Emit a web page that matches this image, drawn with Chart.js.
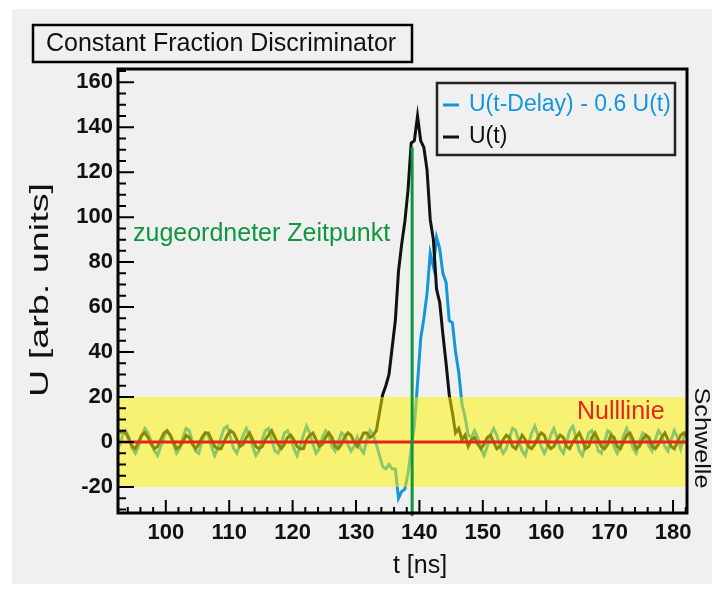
<!DOCTYPE html>
<html><head><meta charset="utf-8">
<script src="https://cdn.jsdelivr.net/npm/chart.js@4.4.0/dist/chart.umd.min.js"></script>
<style>html,body{margin:0;padding:0;background:#fff;}#wrap{width:721px;height:592px;position:relative}</style>
</head><body><div id="wrap"><canvas id="c" width="721" height="592"></canvas></div>
<script>
// sampling grid of the digitizer (ns)
const T_START = 92.7, T_STEP = 0.5;

// U(t)
const uSignal = [
  4, 5, 4, 1, -2, -3, 0, 3, 4, 2,
  -1, -3, -2, 1, 4, 5, 3, 0, -3, -2,
  0, 3, 2, -1, -3, -1, 2, 4, 4, 1,
  -2, -3, -3, 0, 3, 5, 4, 1, -2, -1,
  2, 4, 1, -2, -3, -2, 1, 3, 5, 2,
  -1, -3, -1, 2, 3, 1, -2, -3, -3, 1,
  3, 4, 1, -2, -1, 2, 4, 2, -2, -3,
  -1, 2, 4, 3, 0, -2, 1, 4, 4, 2,
  3, 5, 13, 21, 25, 30, 42, 54, 76, 88,
  98, 112, 133, 134, 145, 134, 131, 121, 99, 90,
  68, 62, 48, 35, 21, 13, 4, 6, 1, 3,
  -2, 1, 2, -1, -3, -1, 2, 3, 0, -3,
  -2, 1, 3, 2, -2, -3, 0, 3, 1, -2,
  -3, -1, 2, 4, 3, -1, -3, -2, 1, 3,
  2, -2, -3, 0, 2, 4, 1, -3, -2, 2,
  4, 1, -2, -3, -1, 3, 2, -2, -3, 0,
  3, 4, 1, -3, -2, 1, 3, 2, -2, -3,
  -1, 2, 4, 1, -2, -3, 0, 3, 4, 2
];

// U(t-Delay) - 0.6 U(t)
const cfdSignal = [
  -2, 3, 5, 2, -3, -5, -2, 3, 6, 4,
  0, -4, -6, -2, 2, 5, 3, -1, -5, -3,
  2, 6, 5, 0, -4, -5, 0, 4, 3, -2,
  -6, -3, 2, 6, 7, 2, -3, -5, -1, 3,
  6, 3, -2, -6, -4, 1, 5, 6, 1, -4,
  -5, -1, 4, 5, 2, -3, -6, -2, 3, 7,
  4, -1, -5, -3, 2, 5, 3, -2, -4, 0,
  4, 3, -1, -4, -2, 2, -3, -5, 1, 5,
  3, -1, -6, -11, -12, -10, -12, -12, -25, -22,
  -21, -14, -3, 7, 26, 46, 55, 66, 84, 78,
  91, 86, 75, 71, 54, 53, 40, 31, 17, 11,
  3, 2, 5, 2, -3, -6, -2, 3, 6, 3,
  -2, -5, -3, 2, 6, 5, 0, -4, -6, -1,
  4, 7, 3, -2, -5, -2, 3, 6, 2, -3,
  -5, 0, 5, 7, 2, -4, -6, -1, 4, 5,
  1, -4, -5, 0, 5, 4, -2, -5, -2, 3,
  6, 2, -3, -5, 0, 4, 3, -2, -4, 1,
  5, 3, -2, -4, 1, 5, 2, -3, 2, 5
];

const xTickValues = [100, 110, 120, 130, 140, 150, 160, 170, 180];
const yTickValues = [-20, 0, 20, 40, 60, 80, 100, 120, 140, 160];
const X_RANGE = [92.46, 182.2];
const Y_RANGE = [-31.6, 165.9];
const THRESHOLD = [-20, 20];
const ZERO_LEVEL = 0;
const ZERO_CROSS_T = 138.85;
const ZERO_CROSS_TOP = 131;

const times = uSignal.map((_, i) => +(T_START + i * T_STEP).toFixed(2));
const uPts = times.map((t, i) => ({x: t, y: uSignal[i]}));
const cfdPts = times.map((t, i) => ({x: t, y: cfdSignal[i]}));

const BLUE = '#1496dc', BLACK = '#111111', GREEN = '#109640', RED = '#e4261c';
const FONT = '"Liberation Sans", Arial, sans-serif';

const bgPlugin = {
  id: 'bg',
  beforeDraw(chart) {
    const ctx = chart.ctx;
    ctx.save();
    ctx.fillStyle = '#ffffff';
    ctx.fillRect(0, 0, 721, 592);
    ctx.fillStyle = '#f0f0f0';
    ctx.fillRect(12, 9, 700, 575);
    ctx.restore();
  }
};

function stretchedText(ctx, text, cx, cy, angle, length) {
  ctx.save();
  ctx.translate(cx, cy); ctx.rotate(angle);
  const w = ctx.measureText(text).width;
  ctx.scale(length / w, 1);
  ctx.textAlign = 'center'; ctx.textBaseline = 'middle';
  ctx.fillText(text, 0, 0);
  ctx.restore();
}

const overlayPlugin = {
  id: 'overlay',
  afterDatasetsDraw(chart) {
    const {ctx, chartArea: a, scales: {x, y}} = chart;
    ctx.save();
    const yt = y.getPixelForValue(THRESHOLD[1]), yb = y.getPixelForValue(THRESHOLD[0]);
    ctx.fillStyle = 'rgba(255,244,0,0.52)';
    ctx.fillRect(a.left, yt, a.right - a.left, yb - yt);
    const y0 = y.getPixelForValue(ZERO_LEVEL);
    ctx.strokeStyle = RED; ctx.lineWidth = 3;
    ctx.beginPath(); ctx.moveTo(a.left, y0); ctx.lineTo(a.right, y0); ctx.stroke();
    const xc = x.getPixelForValue(ZERO_CROSS_T);
    ctx.strokeStyle = GREEN; ctx.lineWidth = 3;
    ctx.beginPath(); ctx.moveTo(xc, y.getPixelForValue(ZERO_CROSS_TOP)); ctx.lineTo(xc, a.bottom + 3); ctx.stroke();
    ctx.strokeStyle = '#000'; ctx.lineWidth = 3;
    ctx.strokeRect(a.left, a.top, a.right - a.left, a.bottom - a.top);
    ctx.lineWidth = 2;
    ctx.beginPath();
    for (let v = -30; v <= 165; v += 5) {
      const py = y.getPixelForValue(v);
      if (py < a.top + 2 || py > a.bottom - 1) continue;
      const len = (v % 20 === 0) ? 16 : 8;
      ctx.moveTo(a.left, py); ctx.lineTo(a.left + len, py);
    }
    for (let v = 94; v <= 182; v += 2) {
      const px = x.getPixelForValue(v);
      if (px < a.left + 1 || px > a.right - 1) continue;
      const len = (v % 10 === 0) ? 13 : 6;
      ctx.moveTo(px, a.bottom); ctx.lineTo(px, a.bottom - len);
    }
    ctx.stroke();
    ctx.restore();
  },
  afterDraw(chart) {
    const {ctx} = chart;
    ctx.save();
    ctx.strokeStyle = '#000'; ctx.lineWidth = 2.5;
    ctx.strokeRect(33, 25, 379, 37);
    ctx.fillStyle = '#111';
    ctx.font = '25px ' + FONT;
    ctx.textBaseline = 'middle'; ctx.textAlign = 'left';
    ctx.fillText('Constant Fraction Discriminator', 46, 44);
    ctx.font = '25px ' + FONT;
    ctx.textAlign = 'center';
    ctx.fillText('t [ns]', 420, 566);
    ctx.font = '26px ' + FONT;
    stretchedText(ctx, 'U [arb. units]', 41, 290, -Math.PI / 2, 214);
    // legend
    ctx.lineWidth = 2.5; ctx.strokeStyle = '#222';
    ctx.strokeRect(437, 83, 238, 72);
    ctx.lineWidth = 3;
    ctx.strokeStyle = BLUE; ctx.beginPath(); ctx.moveTo(443, 105); ctx.lineTo(459, 105); ctx.stroke();
    ctx.strokeStyle = BLACK; ctx.beginPath(); ctx.moveTo(443, 137); ctx.lineTo(459, 137); ctx.stroke();
    ctx.font = '23px ' + FONT; ctx.textAlign = 'left'; ctx.textBaseline = 'middle';
    ctx.fillStyle = BLUE; ctx.fillText('U(t-Delay) - 0.6 U(t)', 469, 105);
    ctx.fillStyle = BLACK; ctx.fillText('U(t)', 469, 137);
    // annotations
    ctx.font = '25px ' + FONT;
    ctx.fillStyle = GREEN;
    ctx.fillText('zugeordneter Zeitpunkt', 133, 234);
    ctx.fillStyle = RED;
    ctx.fillText('Nulllinie', 577, 412);
    ctx.fillStyle = '#111';
    ctx.font = '22px ' + FONT;
    stretchedText(ctx, 'Schwelle', 701, 438, Math.PI / 2, 101);
    ctx.restore();
  }
};

const tickFont = {family: FONT, size: 22, weight: 'bold'};

new Chart(document.getElementById('c'), {
  type: 'line',
  data: {
    datasets: [
      {label: 'U(t)', data: uPts, borderColor: BLACK, borderWidth: 3, pointRadius: 0, tension: 0},
      {label: 'U(t-Delay) - 0.6 U(t)', data: cfdPts, borderColor: BLUE, borderWidth: 3, pointRadius: 0, tension: 0}
    ]
  },
  options: {
    responsive: false, animation: false, devicePixelRatio: 1,
    layout: {padding: {left: 0, right: 34, top: 69, bottom: 0}},
    plugins: {legend: {display: false}, tooltip: {enabled: false}},
    scales: {
      x: {
        type: 'linear', min: X_RANGE[0], max: X_RANGE[1],
        afterBuildTicks: s => { s.ticks = xTickValues.map(v => ({value: v})); },
        afterFit: s => { s.height = 79; },
        grid: {display: false, drawTicks: false}, border: {display: false},
        ticks: {font: tickFont, color: '#111', padding: 7, maxRotation: 0, autoSkip: false}
      },
      y: {
        type: 'linear', min: Y_RANGE[0], max: Y_RANGE[1],
        afterBuildTicks: s => { s.ticks = yTickValues.map(v => ({value: v})); },
        afterFit: s => { s.width = 118; },
        grid: {display: false, drawTicks: false}, border: {display: false},
        ticks: {font: tickFont, color: '#111', padding: 5, autoSkip: false}
      }
    }
  },
  plugins: [bgPlugin, overlayPlugin]
});
</script></body></html>
